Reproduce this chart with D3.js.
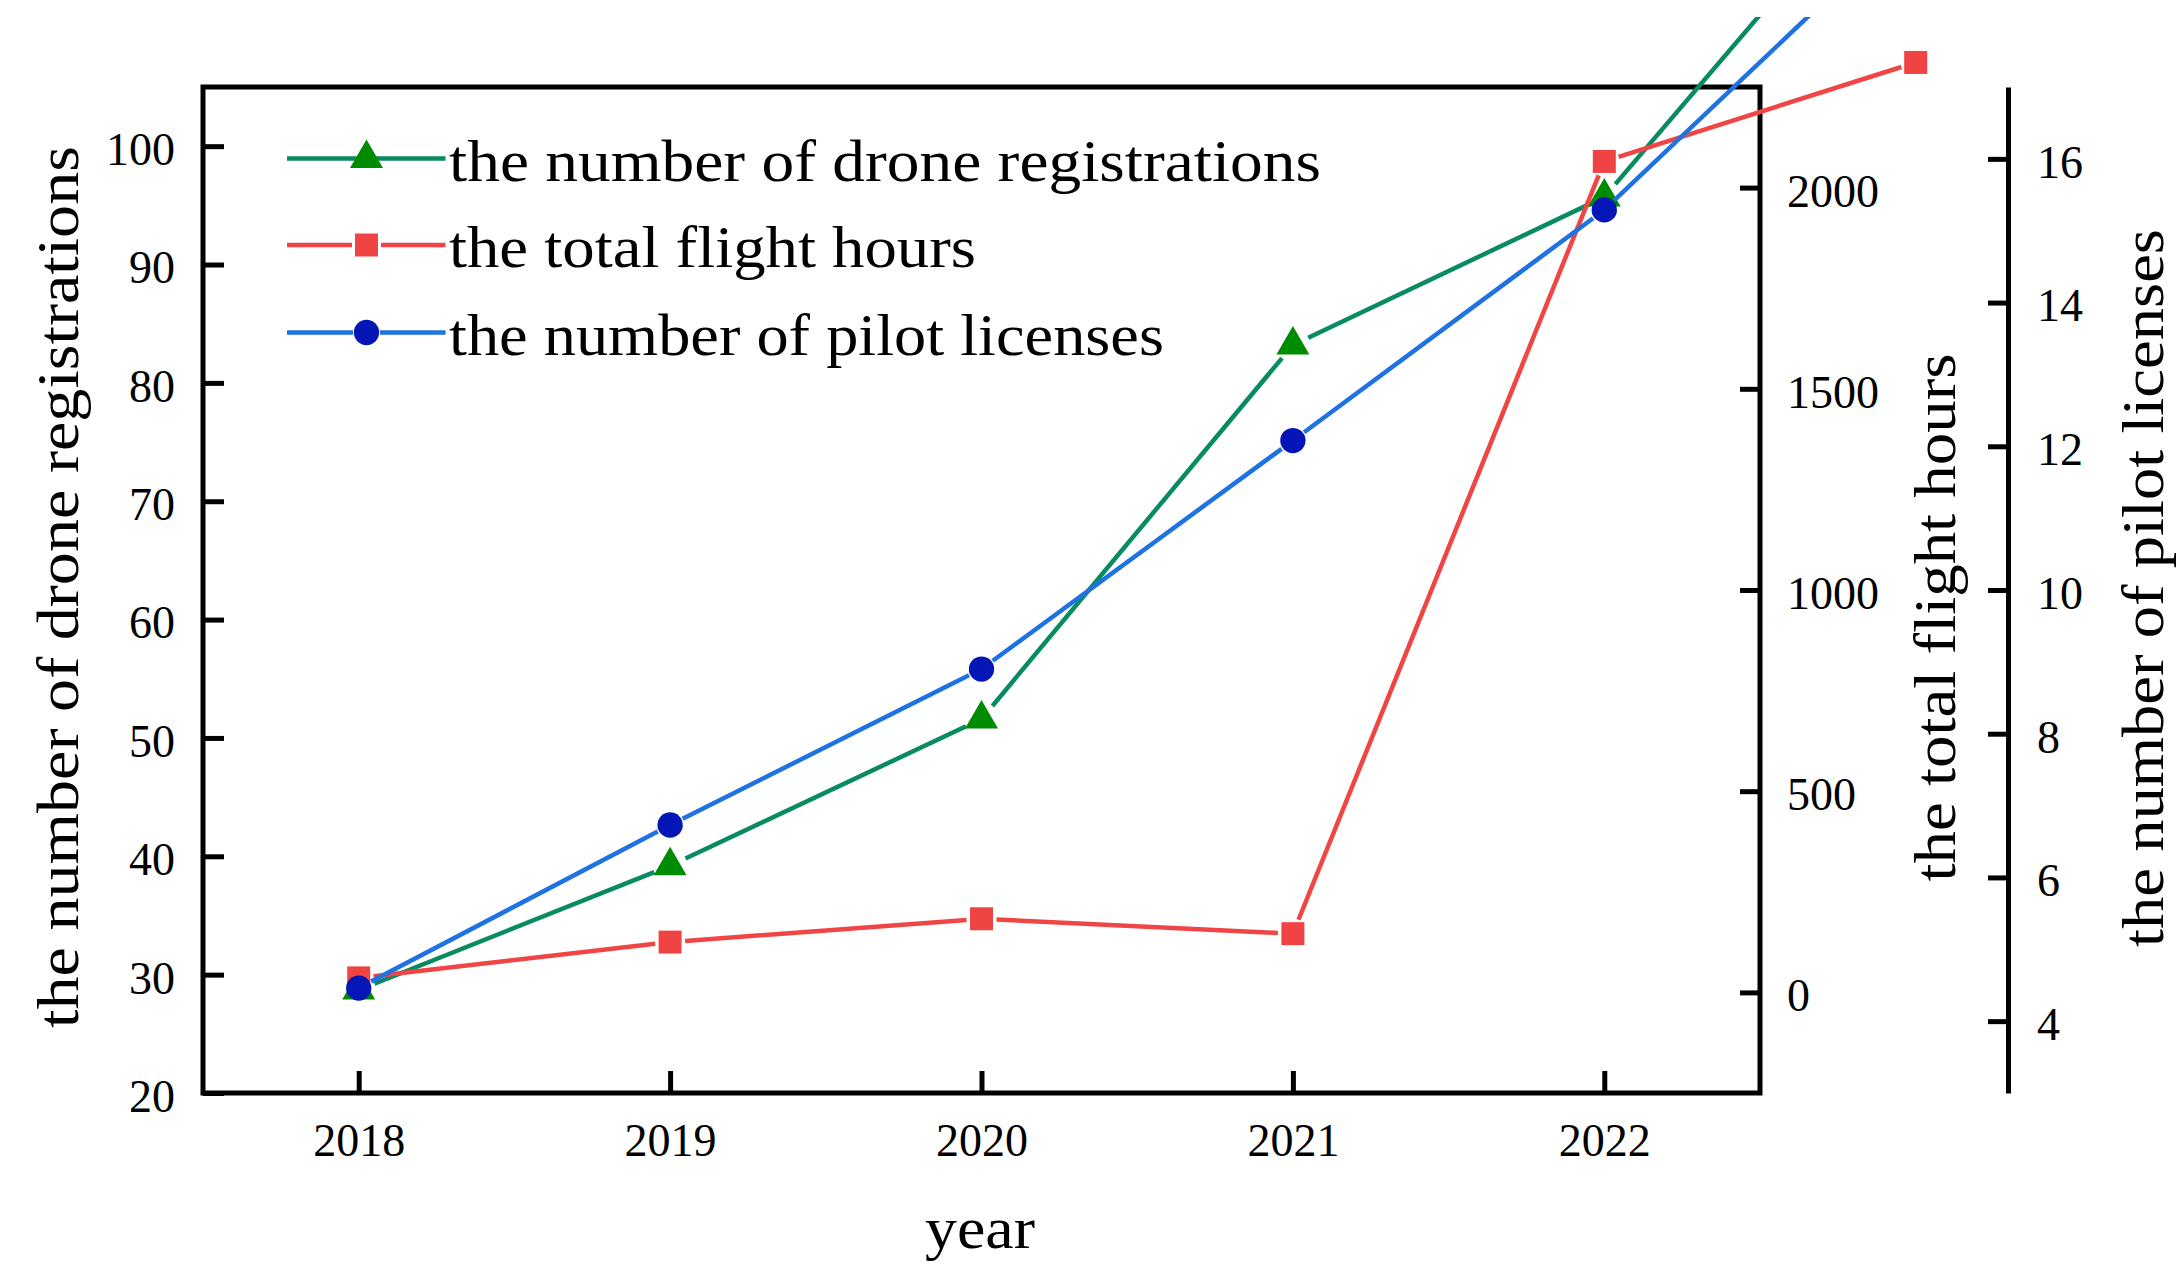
<!DOCTYPE html>
<html>
<head>
<meta charset="utf-8">
<script src="https://cdn.jsdelivr.net/npm/d3@7"></script>
<style>
  body { margin: 0; background: #fff; }
  text { font-family: "Liberation Serif", "Times New Roman", serif; fill: #000; }
</style>
</head>
<body>
<script>
// values
const years = [2018, 2019, 2020, 2021, 2022, 2023];
const droneRegistrations = [28.7, 39.2, 51.6, 83.2, 95.7, 126.5];
const flightHours = [36, 125, 183, 146, 2065, 2311];
const pilotLicenses = [4.46, 6.73, 8.90, 12.08, 15.29, 19.4];

const xTicks = [2018, 2019, 2020, 2021, 2022];
const leftTicks = [20, 30, 40, 50, 60, 70, 80, 90, 100];
const hoursTicks = [0, 500, 1000, 1500, 2000];
const pilotTicks = [4, 6, 8, 10, 12, 14, 16];

const seriesNames = [
    'the number of drone registrations',
    'the total flight hours',
    'the number of pilot licenses'
];

const W = 2184, H = 1285;
const FRAME = { left: 203, right: 1760, top: 87, bottom: 1093 };
const PILOT_AXIS_X = 2008;

const x = d3.scaleLinear().domain([2017.5, 2022.5]).range([FRAME.left, FRAME.right]);
const yLeft = d3.scaleLinear().domain([20, 105]).range([FRAME.bottom, FRAME.top]);
const yHours = d3.scaleLinear().domain([-250, 2250]).range([FRAME.bottom, FRAME.top]);
const yPilot = d3.scaleLinear().domain([3, 17]).range([FRAME.bottom, FRAME.top]);

const SERIES = [
    { name: seriesNames[0], values: droneRegistrations, scale: yLeft,
      stroke: '#088b62', fill: '#008c00', symbol: d3.symbolTriangle, size: 471, gap: 17, legendGap: 0 },
    { name: seriesNames[1], values: flightHours, scale: yHours,
      stroke: '#f04545', fill: '#f04444', symbol: d3.symbolSquare, size: 529, gap: 15, legendGap: 14.5 },
    { name: seriesNames[2], values: pilotLicenses, scale: yPilot,
      stroke: '#1f72e2', fill: '#0516b6', symbol: d3.symbolCircle, size: 503, gap: 14, legendGap: 13.5 }
];

const svg = d3.select('body').append('svg')
    .attr('width', W)
    .attr('height', H);

svg.append('defs').append('clipPath')
    .attr('id', 'figClip')
    .append('rect')
    .attr('x', 0).attr('y', 17)
    .attr('width', W).attr('height', H - 17);

const fmt = d3.format('d');

function styleAxis (g) {
    g.select('.domain').remove();
    g.selectAll('.tick line').attr('stroke', '#000').attr('stroke-width', 5);
    g.selectAll('.tick text').attr('font-size', 46);
}

// axes
svg.append('g')
    .attr('transform', 'translate(0,' + FRAME.bottom + ')')
    .call(d3.axisBottom(x).tickValues(xTicks).tickFormat(fmt).tickSizeInner(-22).tickSizeOuter(0).tickPadding(30))
    .call(styleAxis);

svg.append('g')
    .attr('transform', 'translate(' + FRAME.left + ',0)')
    .call(d3.axisLeft(yLeft).tickValues(leftTicks).tickFormat(fmt).tickSizeInner(-21).tickSizeOuter(0).tickPadding(28))
    .call(styleAxis)
    .selectAll('.tick text').attr('dy', '0.4em');

svg.append('g')
    .attr('transform', 'translate(' + FRAME.right + ',0)')
    .call(d3.axisRight(yHours).tickValues(hoursTicks).tickFormat(fmt).tickSizeInner(-20).tickSizeOuter(0).tickPadding(27))
    .call(styleAxis)
    .selectAll('.tick text').attr('dy', '0.4em');

const pilotAxis = svg.append('g')
    .attr('transform', 'translate(' + PILOT_AXIS_X + ',0)')
    .call(d3.axisRight(yPilot).tickValues(pilotTicks).tickFormat(fmt).tickSizeInner(-20).tickSizeOuter(0).tickPadding(29));
pilotAxis.select('.domain').attr('stroke', '#000').attr('stroke-width', 5);
pilotAxis.selectAll('.tick line').attr('stroke', '#000').attr('stroke-width', 5);
pilotAxis.selectAll('.tick text').attr('font-size', 46).attr('dy', '0.4em');

// frame
svg.append('rect')
    .attr('x', FRAME.left).attr('y', FRAME.top)
    .attr('width', FRAME.right - FRAME.left)
    .attr('height', FRAME.bottom - FRAME.top)
    .attr('fill', 'none')
    .attr('stroke', '#000')
    .attr('stroke-width', 5);

// series: lines with a small gap round every symbol
const line = d3.line();
const plot = svg.append('g').attr('clip-path', 'url(#figClip)');

SERIES.forEach(s => {
    var pts = years.map((yr, i) => [x(yr), s.scale(s.values[i])]);
    var segs = d3.pairs(pts).map(([p0, p1]) => {
        var dx = p1[0] - p0[0], dy = p1[1] - p0[1];
        var len = Math.hypot(dx, dy);
        var ux = dx / len, uy = dy / len;
        return [[p0[0] + ux * s.gap, p0[1] + uy * s.gap], [p1[0] - ux * s.gap, p1[1] - uy * s.gap]];
    });
    var g = plot.append('g');
    g.selectAll('path.seg')
        .data(segs)
        .enter()
        .append('path')
        .attr('class', 'seg')
        .attr('d', d => line(d))
        .attr('fill', 'none')
        .attr('stroke', s.stroke)
        .attr('stroke-width', 4.5);
    g.selectAll('path.mark')
        .data(pts)
        .enter()
        .append('path')
        .attr('class', 'mark')
        .attr('transform', d => 'translate(' + d[0] + ',' + d[1] + ')')
        .attr('d', d3.symbol().type(s.symbol).size(s.size))
        .attr('fill', s.fill);
});

// legend
const LEGEND = { x0: 287, x1: 445.5, xm: 366.5, textX: 449, rows: [158.5, 245, 332.5], widths: [872, 527, 715] };
SERIES.forEach((s, i) => {
    var ly = LEGEND.rows[i];
    var g = svg.append('g');
    var parts = s.legendGap > 0
        ? [[[LEGEND.x0, ly], [LEGEND.xm - s.legendGap, ly]], [[LEGEND.xm + s.legendGap, ly], [LEGEND.x1, ly]]]
        : [[[LEGEND.x0, ly], [LEGEND.x1, ly]]];
    g.selectAll('path.ll')
        .data(parts)
        .enter()
        .append('path')
        .attr('d', d => line(d))
        .attr('stroke', s.stroke)
        .attr('stroke-width', 4.5);
    g.append('path')
        .attr('transform', 'translate(' + LEGEND.xm + ',' + ly + ')')
        .attr('d', d3.symbol().type(s.symbol).size(s.size))
        .attr('fill', s.fill);
    g.append('text')
        .attr('x', LEGEND.textX)
        .attr('y', ly + 22.2)
        .attr('font-size', 59)
        .attr('textLength', LEGEND.widths[i])
        .attr('lengthAdjust', 'spacingAndGlyphs')
        .text(s.name);
});

// axis titles
function axisTitle (label, tx, ty, rotate, width) {
    svg.append('text')
        .attr('transform', 'translate(' + tx + ',' + ty + ')' + (rotate ? ' rotate(-90)' : ''))
        .attr('text-anchor', 'middle')
        .attr('font-size', 59)
        .attr('textLength', width)
        .attr('lengthAdjust', 'spacingAndGlyphs')
        .text(label);
}

axisTitle('year', 980, 1248, false, 110);
axisTitle(seriesNames[0], 78, 587, true, 882);
axisTitle(seriesNames[1], 1955, 617.5, true, 528);
axisTitle(seriesNames[2], 2163, 588, true, 718);
</script>
</body>
</html>
